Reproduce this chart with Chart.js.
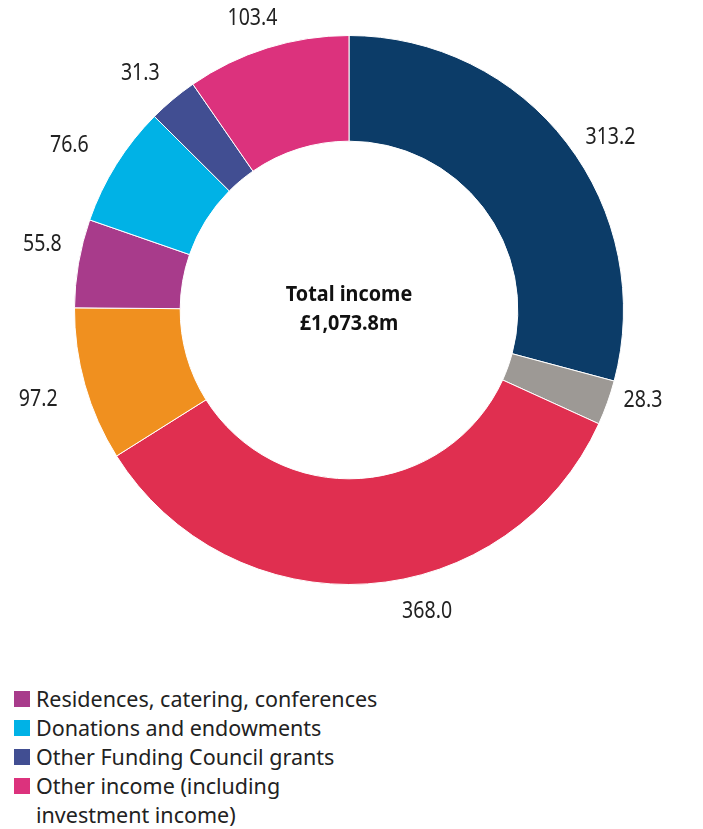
<!DOCTYPE html>
<html lang="en">
<head>
<meta charset="UTF-8">
<title>Total income</title>
<script src="https://cdn.jsdelivr.net/npm/chart.js"></script>
<style>
  body { margin: 0; background: #fff; font-family: "Noto Sans", sans-serif; }
  .wrap { position: relative; width: 703px; height: 640px; }
  #legend { list-style: none; margin: 0; padding: 0 0 0 14px; position: absolute; top: 684px; left: 0; }
  #legend li { font-size: 21.5px; color: #222; line-height: 29px; display: flex; align-items: flex-start; }
  #legend .sw { width: 16px; height: 16px; margin: 7px 6px 0 0; flex: none; }
</style>
</head>
<body>
<div class="wrap"><canvas id="incomeChart"></canvas></div>
<ul id="legend"></ul>

<script>
// income sources, clockwise from the top (£m)
const categories = [
  'Research grants and contracts',
  'Other education contracts',
  'Tuition fees and education contracts',
  'Funding Council teaching grant',
  'Residences, catering, conferences',
  'Donations and endowments',
  'Other Funding Council grants',
  'Other income (including\ninvestment income)'
];
const values = [313.2, 28.3, 368.0, 97.2, 55.8, 76.6, 31.3, 103.4];
const colours = ['#0c3c68', '#9d9995', '#e02f50', '#f0901f', '#a83b8b', '#00b2e6', '#414e92', '#dc327d'];
const legendShown = [4, 5, 6, 7];
const totalLabel = ['Total income', '£1,073.8m'];

// value label placement: angle shift from slice middle (deg), gap beyond outer edge (px)
const labelShift = [4, -2.7, -10.7, -0.3, 2.2, -1.5, -1.5, -1];
const labelGap = [39, 33, 37, 49, 39, 50, 41, 32.5];

// condensed text: draw wider font squeezed horizontally
function squeezedText(ctx, text, x, y, sx) {
  ctx.save();
  ctx.translate(x, y);
  ctx.scale(sx, 1);
  ctx.fillText(text, 0, 0);
  ctx.restore();
}

const sliceLabels = {
  id: 'sliceLabels',
  afterDatasetsDraw(chart) {
    const ctx = chart.ctx;
    const arcs = chart.getDatasetMeta(0).data;
    ctx.save();
    ctx.font = '23px "Noto Sans"';
    ctx.fillStyle = '#222';
    ctx.textAlign = 'center';
    ctx.textBaseline = 'middle';
    arcs.forEach((arc, i) => {
      const a = (arc.startAngle + arc.endAngle) / 2 + labelShift[i] * Math.PI / 180;
      const r = arc.outerRadius + labelGap[i];
      squeezedText(ctx, values[i].toFixed(1), arc.x + Math.cos(a) * r, arc.y + Math.sin(a) * r, 0.85);
    });
    // centre caption
    const c = arcs[0];
    ctx.font = 'bold 22px "Noto Sans"';
    ctx.fillStyle = '#111';
    squeezedText(ctx, totalLabel[0], c.x, c.y - 15, 0.9);
    squeezedText(ctx, totalLabel[1], c.x, c.y + 14, 0.9);
    ctx.restore();
  }
};

new Chart(document.getElementById('incomeChart'), {
  type: 'doughnut',
  data: {
    labels: categories,
    datasets: [{
      data: values,
      backgroundColor: colours,
      borderColor: '#fff',
      borderWidth: 1
    }]
  },
  options: {
    responsive: true,
    maintainAspectRatio: false,
    animation: false,
    cutout: '61.5%',
    layout: { padding: { left: 74, right: 79, top: 35, bottom: 55 } },
    plugins: {
      legend: { display: false },
      tooltip: { enabled: false }
    }
  },
  plugins: [sliceLabels]
});

// legend below the chart
const legend = document.getElementById('legend');
legendShown.forEach(i => {
  const li = document.createElement('li');
  const sw = document.createElement('span');
  sw.className = 'sw';
  sw.style.background = colours[i];
  const txt = document.createElement('span');
  txt.innerHTML = categories[i].replace('\n', '<br>');
  li.appendChild(sw);
  li.appendChild(txt);
  legend.appendChild(li);
});
</script>
</body>
</html>
